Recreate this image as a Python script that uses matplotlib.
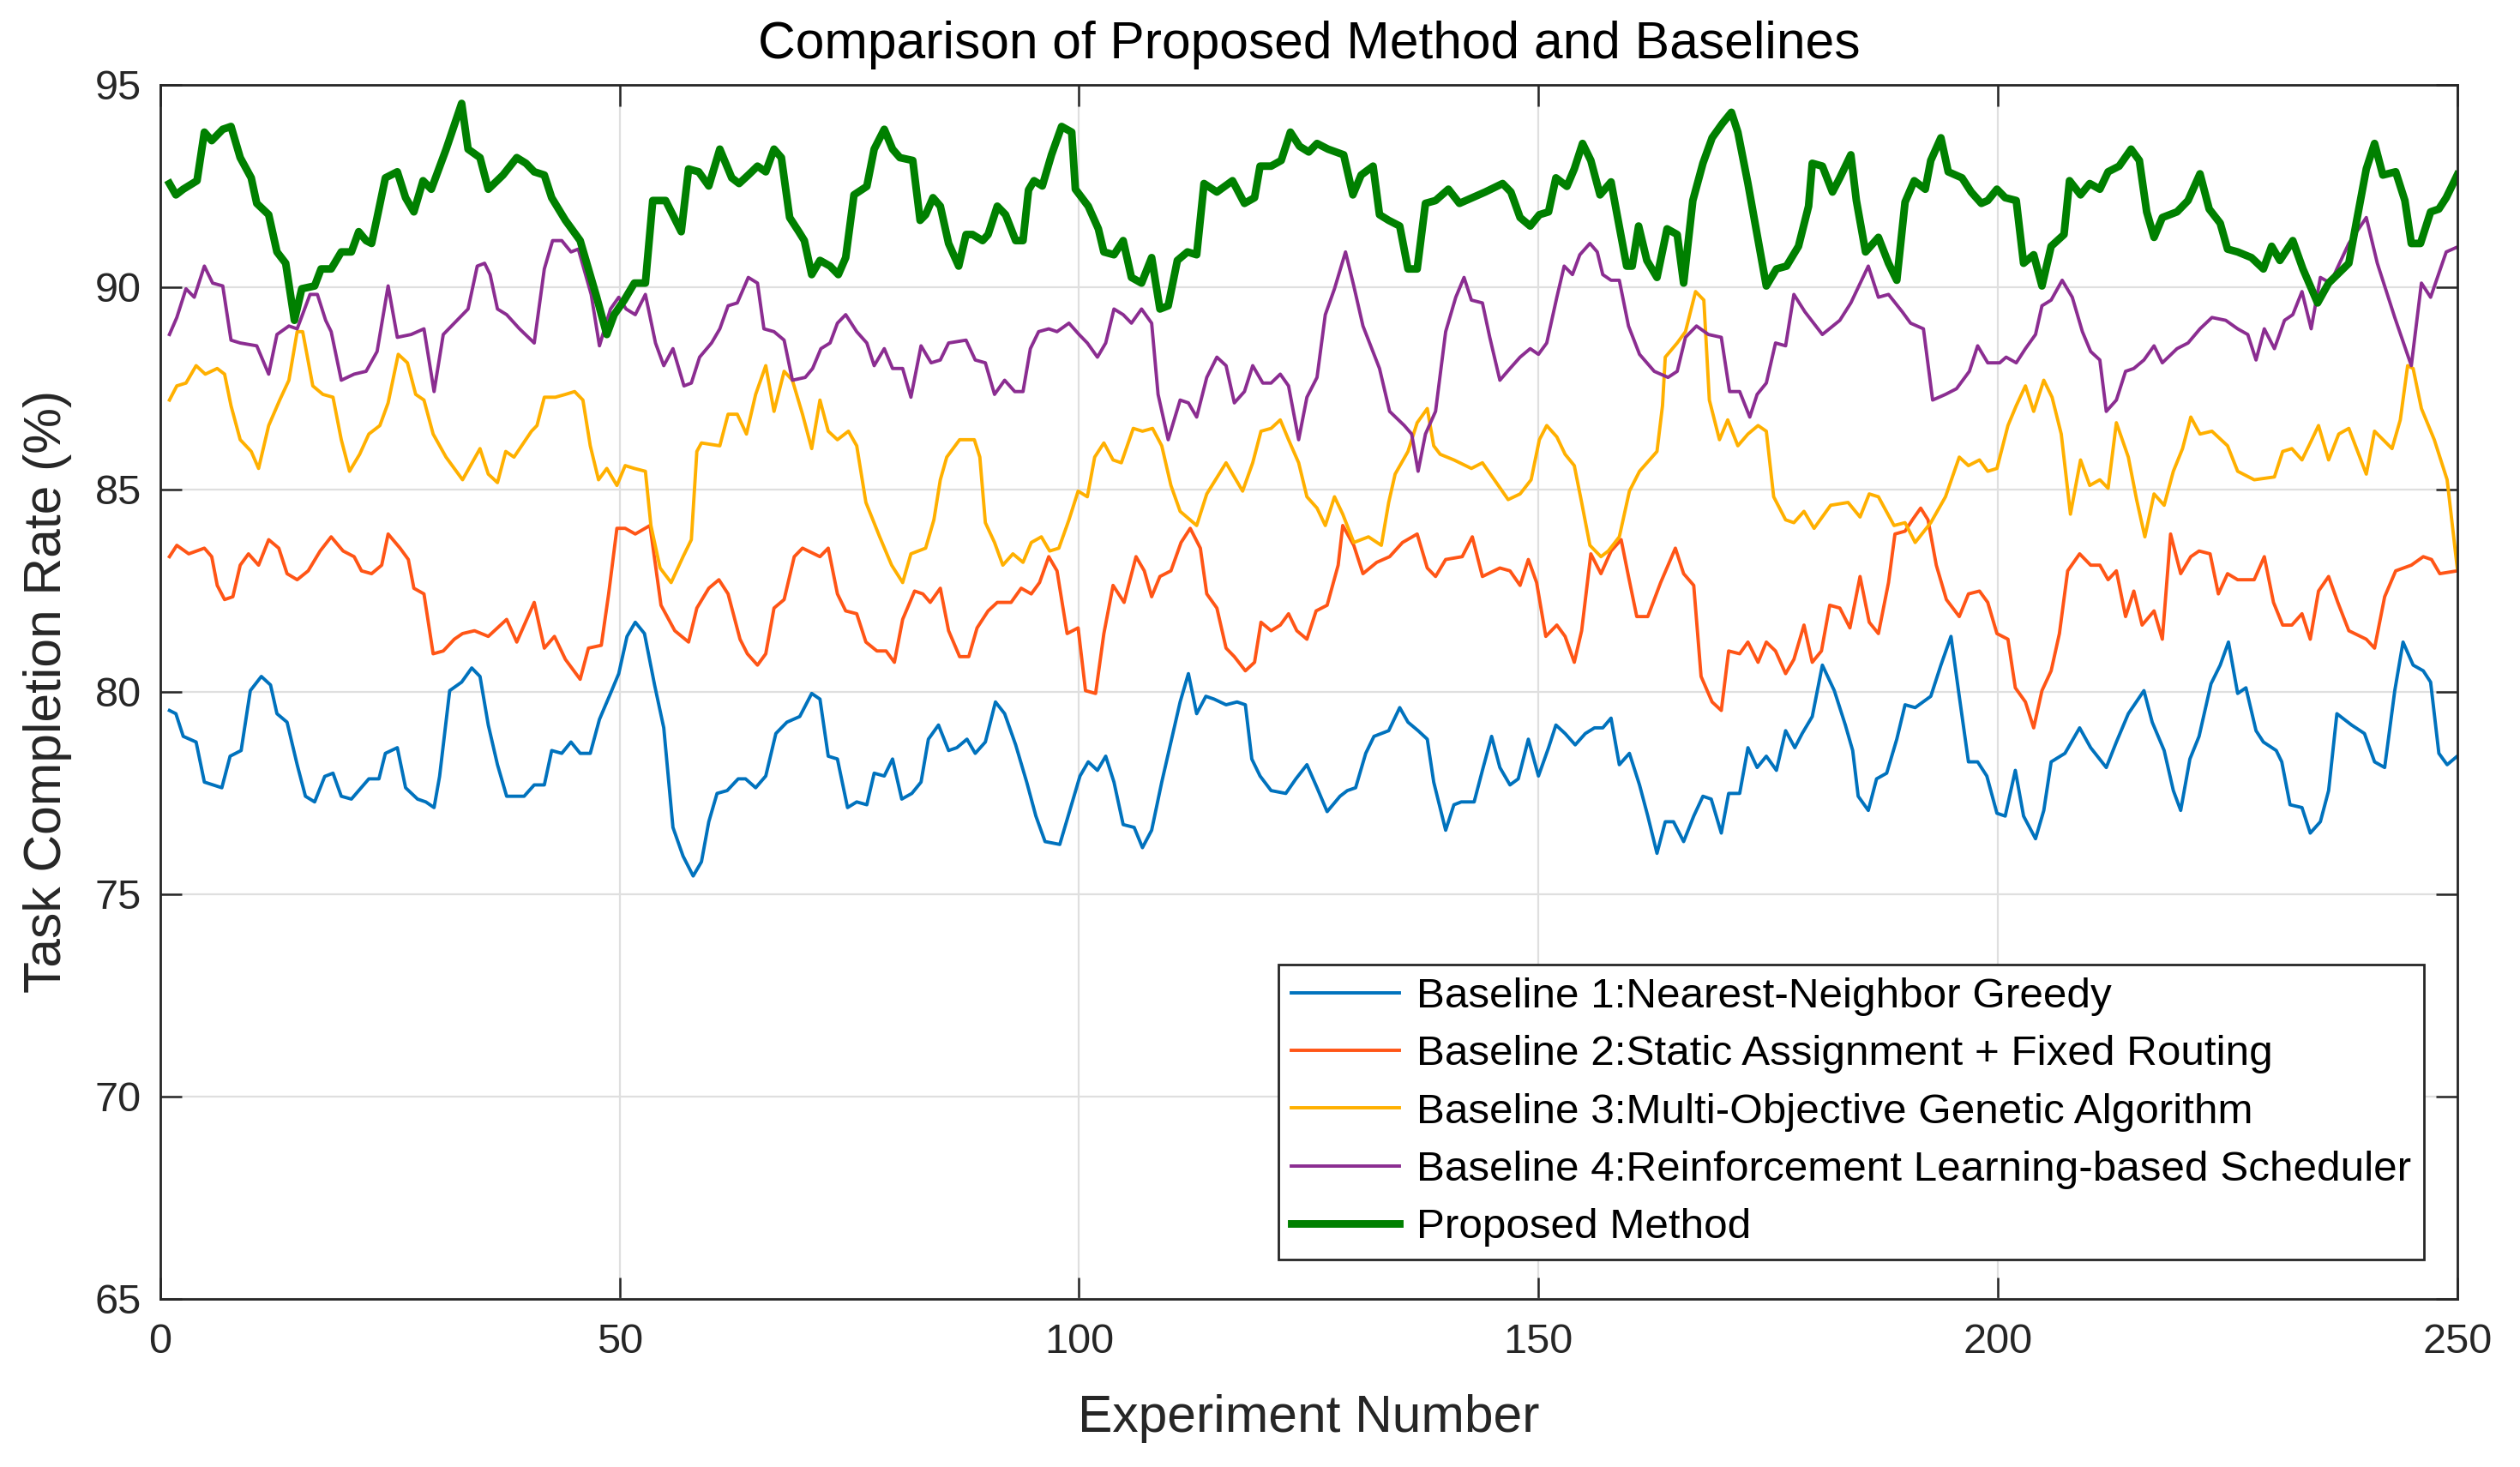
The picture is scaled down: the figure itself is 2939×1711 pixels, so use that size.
import matplotlib.pyplot as plt

plt.rcParams['font.family'] = ['Liberation Sans', 'DejaVu Sans']

# values: experiment number / task completion rate (%)
b1_x = [1, 1.7, 2.5, 3.9, 4.8, 6.7, 7.6, 8.8, 9.8, 11.0, 12.0, 12.7, 13.8, 14.9, 15.8, 16.8, 17.9, 18.8, 19.7, 20.8,
        22.7, 23.8, 24.5, 25.8, 26.7, 28.0, 28.9, 29.8, 30.4, 31.5, 32.8, 33.9, 34.8, 35.7, 36.7, 37.7, 39.6, 40.7,
        41.8, 42.6, 43.7, 44.7, 45.7, 46.8, 47.8, 49.0, 49.9, 50.8, 51.7, 52.7, 53.8, 54.8, 55.8, 56.9, 58.0, 58.9,
        59.7, 60.6, 61.7, 62.9, 63.7, 64.8, 65.9, 67.0, 68.2, 69.6, 70.9, 71.8, 72.7, 73.7, 74.8, 75.8, 76.9, 77.7,
        78.8, 79.7, 80.7, 81.8, 82.8, 83.6, 84.7, 85.8, 86.7, 87.8, 88.7, 89.8, 90.9, 91.9, 93.1, 94.3, 95.3, 96.3,
        97.9, 98.9, 100.1, 101.0, 102.0, 102.9, 103.8, 104.8, 106.0, 106.9, 107.9, 109.0, 110.0, 111.0, 111.9, 112.8,
        113.8, 114.7, 116.0, 117.2, 118.1, 118.8, 119.7, 120.9, 122.5, 123.6, 124.8, 125.9, 127.0, 128.4, 129.2,
        130.1, 131.2, 132.1, 133.7, 134.9, 135.8, 136.9, 137.9, 138.6, 139.9, 140.8, 141.6, 143.0, 143.9, 144.9,
        145.8, 146.9, 147.8, 148.9, 150.0, 151.1, 151.9, 152.9, 154.0, 155.1, 156.1, 157.0, 157.9, 158.8, 159.9,
        161.0, 161.9, 162.9, 163.8, 164.7, 165.8, 166.9, 167.9, 168.8, 169.9, 170.7, 171.9, 172.8, 173.8, 174.8,
        175.9, 176.9, 177.9, 178.7, 179.8, 180.9, 182.2, 183.4, 184.2, 184.8, 185.9, 186.8, 187.9, 189.0, 189.9,
        191.0, 192.7, 193.8, 194.9, 195.8, 196.8, 197.8, 198.8, 199.9, 200.8, 201.9, 202.8, 204.1, 205.0, 205.8,
        207.3, 208.9, 210.1, 211.8, 212.9, 214.2, 215.9, 216.8, 218.1, 219.1, 219.9, 220.9, 221.9, 223.2, 224.2,
        225.1, 226.1, 227.0, 228.1, 228.9, 230.3, 230.9, 231.8, 233.1, 234.0, 235.1, 236.0, 236.9, 238.5, 239.9,
        241.0, 242.1, 243.2, 244.1, 245.2, 246.3, 247.1, 248.0, 248.9, 250.0]
b1_y = [79.54, 79.46, 78.9, 78.76, 77.77, 77.63, 78.41, 78.55, 80.03, 80.38, 80.17, 79.46, 79.25, 78.2, 77.42, 77.28,
        77.91, 77.99, 77.42, 77.35, 77.85, 77.85, 78.48, 78.62, 77.63, 77.35, 77.28, 77.14, 77.91, 80.03, 80.24,
        80.59, 80.38, 79.18, 78.2, 77.42, 77.42, 77.7, 77.7, 78.55, 78.48, 78.76, 78.48, 78.48, 79.32, 79.96, 80.45,
        81.37, 81.72, 81.44, 80.17, 79.11, 76.65, 75.94, 75.45, 75.8, 76.79, 77.49, 77.56, 77.85, 77.85, 77.63, 77.92,
        78.97, 79.25, 79.39, 79.96, 79.82, 78.41, 78.34, 77.14, 77.28, 77.21, 77.99, 77.92, 78.34, 77.35, 77.49,
        77.77, 78.83, 79.18, 78.55, 78.62, 78.83, 78.48, 78.76, 79.75, 79.46, 78.69, 77.77, 76.93, 76.3, 76.23, 77.0,
        77.92, 78.27, 78.06, 78.41, 77.77, 76.72, 76.65, 76.15, 76.58, 77.77, 78.76, 79.75, 80.45, 79.46, 79.89,
        79.82, 79.68, 79.75, 79.68, 78.34, 77.92, 77.56, 77.49, 77.85, 78.2, 77.63, 77.04, 77.42, 77.56, 77.63,
        78.48, 78.9, 79.04, 79.61, 79.25, 79.04, 78.83, 77.77, 76.58, 77.21, 77.28, 77.28, 78.06, 78.9, 78.13, 77.7,
        77.85, 78.83, 77.92, 78.62, 79.18, 78.97, 78.69, 78.97, 79.11, 79.11, 79.35, 78.2, 78.48, 77.7, 76.93, 76.01,
        76.79, 76.79, 76.3, 76.93, 77.42, 77.35, 76.51, 77.49, 77.49, 78.62, 78.13, 78.41, 78.06, 79.04, 78.62, 78.97,
        79.39, 80.66, 80.03, 79.18, 78.55, 77.42, 77.07, 77.85, 77.99, 78.83, 79.68, 79.61, 79.89, 80.66, 81.37,
        79.89, 78.27, 78.27, 77.92, 77.0, 76.93, 78.06, 76.93, 76.37, 77.07, 78.27, 78.48, 79.11, 78.62, 78.13,
        78.76, 79.46, 80.03, 79.25, 78.55, 77.56, 77.07, 78.34, 78.9, 80.2, 80.66, 81.23, 79.96, 80.1, 79.04, 78.76,
        78.55, 78.27, 77.21, 77.14, 76.51, 76.79, 77.56, 79.46, 79.18, 78.97, 78.27, 78.13, 80.03, 81.23, 80.66,
        80.52, 80.24, 78.48, 78.2, 78.41]

b2_x = [1, 1.8, 3.1, 4.8, 5.6, 6.2, 7.0, 7.9, 8.7, 9.6, 10.7, 11.8, 12.9, 13.8, 14.9, 16.1, 17.4, 18.6, 19.9, 21.1,
        21.9, 23.0, 24.1, 24.8, 26.1, 27.0, 27.6, 28.7, 29.7, 30.8, 32.0, 32.9, 34.2, 35.7, 37.7, 38.8, 40.7, 41.8,
        42.9, 44.1, 45.7, 46.6, 48.0, 48.8, 49.7, 50.6, 51.7, 53.3, 54.5, 56.0, 57.5, 58.4, 59.7, 60.8, 61.8, 63.1,
        63.9, 65.0, 65.9, 66.8, 67.9, 69.0, 69.9, 71.8, 72.7, 73.7, 74.6, 75.8, 76.8, 78.0, 79.0, 79.9, 80.8, 82.1,
        83.0, 83.8, 84.9, 85.8, 87.0, 88.0, 88.9, 90.1, 91.1, 92.6, 93.7, 94.8, 95.7, 96.7, 97.6, 98.7, 99.9, 100.7,
        101.8, 102.7, 103.7, 104.9, 106.2, 107.1, 107.9, 108.8, 110.0, 111.1, 112.1, 113.2, 113.9, 115.0, 116.0,
        116.9, 118.1, 119.1, 119.8, 120.9, 121.9, 122.8, 123.7, 124.8, 125.8, 127.0, 128.2, 128.7, 129.9, 130.9,
        132.4, 133.8, 135.2, 136.8, 137.9, 138.8, 139.9, 141.7, 142.8, 143.9, 145.8, 146.9, 148.0, 148.9, 149.8,
        150.8, 152.0, 152.9, 153.9, 154.7, 155.7, 156.8, 157.9, 159.0, 159.8, 160.7, 161.9, 163.3, 164.9, 165.8,
        166.9, 167.7, 168.9, 169.9, 170.7, 171.9, 172.8, 173.9, 174.8, 175.8, 176.9, 177.8, 178.9, 179.8, 180.8,
        181.7, 182.8, 183.9, 185.0, 186.0, 187.0, 188.1, 188.8, 189.9, 190.7, 191.6, 192.4, 193.3, 194.4, 195.8,
        196.8, 198.0, 198.9, 199.9, 201.1, 201.9, 203.0, 203.9, 204.8, 205.8, 206.7, 207.6, 208.9, 210.1, 211.1,
        212.0, 212.9, 213.9, 214.8, 215.7, 217.0, 217.9, 218.8, 219.9, 221.0, 221.9, 223.1, 224.0, 225.0, 226.1,
        227.9, 229.0, 230.0, 231.0, 232.0, 233.1, 234.0, 234.9, 236.0, 237.0, 238.2, 240.1, 241.0, 242.1, 243.3,
        245.0, 246.3, 247.2, 248.1, 250.0]
b2_y = [83.34, 83.62, 83.41, 83.55, 83.34, 82.63, 82.28, 82.35, 83.13, 83.41, 83.13, 83.76, 83.55, 82.92, 82.77,
        82.99, 83.48, 83.83, 83.48, 83.34, 82.99, 82.92, 83.13, 83.9, 83.55, 83.27, 82.56, 82.42, 80.94, 81.01, 81.3,
        81.44, 81.51, 81.37, 81.79, 81.23, 82.21, 81.08, 81.37, 80.8, 80.31, 81.08, 81.15, 82.42, 84.04, 84.04, 83.9,
        84.11, 82.14, 81.51, 81.23, 82.07, 82.56, 82.77, 82.42, 81.3, 80.94, 80.66, 80.94, 82.07, 82.28, 83.34, 83.55,
        83.34, 83.55, 82.42, 82.0, 81.93, 81.23, 81.01, 81.01, 80.73, 81.79, 82.49, 82.42, 82.21, 82.56, 81.51, 80.87,
        80.87, 81.58, 82.0, 82.21, 82.21, 82.56, 82.42, 82.7, 83.34, 82.99, 81.44, 81.58, 80.03, 79.96, 81.44, 82.63,
        82.21, 83.34, 82.99, 82.35, 82.85, 82.99, 83.69, 84.04, 83.55, 82.42, 82.07, 81.08, 80.87, 80.52, 80.73,
        81.72, 81.51, 81.65, 81.93, 81.51, 81.3, 82.0, 82.14, 83.13, 84.11, 83.62, 82.92, 83.2, 83.34, 83.69, 83.9,
        83.06, 82.85, 83.27, 83.34, 83.83, 82.85, 83.06, 82.99, 82.63, 83.27, 82.7, 81.37, 81.65, 81.37, 80.73,
        81.51, 83.41, 82.92, 83.48, 83.76, 82.85, 81.86, 81.86, 82.7, 83.55, 82.92, 82.63, 80.38, 79.75, 79.54,
        81.01, 80.94, 81.23, 80.73, 81.23, 81.01, 80.45, 80.8, 81.65, 80.73, 81.01, 82.14, 82.07, 81.58, 82.85,
        81.72, 81.44, 82.7, 83.9, 83.97, 84.25, 84.54, 84.25, 83.13, 82.28, 81.86, 82.42, 82.49, 82.21, 81.44, 81.3,
        80.1, 79.75, 79.11, 80.03, 80.52, 81.44, 82.99, 83.41, 83.13, 83.13, 82.77, 82.99, 81.86, 82.49, 81.65, 82.0,
        81.3, 83.9, 82.92, 83.34, 83.48, 83.41, 82.42, 82.92, 82.77, 82.77, 83.34, 82.21, 81.65, 81.65, 81.93, 81.3,
        82.49, 82.85, 82.21, 81.51, 81.3, 81.08, 82.35, 82.99, 83.13, 83.34, 83.27, 82.92, 82.99]

b3_x = [1, 1.8, 2.8, 3.9, 4.9, 6.2, 7.0, 7.7, 8.7, 9.9, 10.7, 11.8, 13.0, 14.0, 14.9, 15.5, 16.6, 17.7, 18.8, 19.7,
        20.6, 21.7, 22.7, 23.9, 24.8, 25.9, 26.9, 27.8, 28.7, 29.7, 31.1, 32.9, 34.8, 35.7, 36.7, 37.6, 38.5, 40.4,
        41.0, 41.8, 43.0, 44.1, 45.1, 46.0, 46.8, 47.7, 48.6, 49.7, 50.6, 51.6, 52.8, 53.4, 54.4, 55.6, 56.9, 57.8,
        58.4, 58.9, 60.9, 61.8, 62.8, 63.8, 64.8, 65.9, 66.8, 67.9, 68.8, 69.9, 70.9, 71.8, 72.7, 73.7, 74.9, 75.8,
        76.8, 78.3, 79.6, 80.8, 81.7, 83.3, 84.2, 84.9, 85.6, 87.0, 88.6, 89.2, 89.8, 90.8, 91.7, 92.8, 93.9, 94.8,
        95.9, 96.8, 97.8, 98.9, 99.9, 100.9, 101.7, 102.7, 103.7, 104.6, 105.9, 106.9, 108.0, 109.0, 110.0, 111.0,
        112.8, 113.9, 116.0, 116.9, 117.8, 118.9, 119.8, 120.9, 121.9, 122.8, 123.9, 124.8, 125.9, 126.8, 127.8,
        128.7, 129.9, 131.5, 132.9, 133.7, 134.4, 135.8, 136.8, 137.9, 138.6, 139.3, 140.8, 142.7, 143.9, 145.2,
        146.7, 148.0, 149.2, 150.1, 150.9, 152.0, 152.9, 153.9, 154.7, 155.6, 156.8, 157.6, 158.8, 159.9, 161.0,
        162.9, 163.5, 163.8, 165.1, 166.0, 167.1, 168.0, 168.6, 169.7, 170.6, 171.7, 172.8, 173.9, 174.8, 175.6,
        176.9, 177.8, 178.9, 180.0, 181.8, 183.7, 185.0, 186.0, 187.0, 188.7, 189.9, 191.0, 192.7, 194.3, 195.8,
        196.8, 198.0, 198.9, 199.9, 201.1, 202.0, 203.0, 203.9, 205.0, 205.9, 206.9, 207.9, 209.0, 210.0, 211.1,
        212.0, 212.9, 214.2, 215.1, 216.0, 217.0, 218.1, 219.1, 220.1, 221.0, 222.0, 223.3, 225.0, 226.1, 227.9,
        230.1, 231.0, 232.0, 233.1, 234.0, 234.9, 236.0, 237.1, 238.2, 240.1, 241.0, 242.9, 243.8, 244.6, 245.2,
        246.1, 247.5, 248.9, 250.0]
b3_y = [87.21, 87.56, 87.63, 88.06, 87.85, 87.99, 87.85, 87.07, 86.23, 85.94, 85.52, 86.58, 87.21, 87.7, 88.9, 88.9,
        87.56, 87.35, 87.28, 86.23, 85.45, 85.87, 86.37, 86.58, 87.14, 88.34, 88.13, 87.35, 87.21, 86.37, 85.8, 85.24,
        86.01, 85.38, 85.17, 85.94, 85.8, 86.44, 86.58, 87.28, 87.28, 87.35, 87.42, 87.21, 86.08, 85.24, 85.52, 85.1,
        85.59, 85.52, 85.45, 84.11, 83.06, 82.7, 83.34, 83.76, 85.94, 86.15, 86.08, 86.86, 86.86, 86.37, 87.35, 88.06,
        86.93, 87.92, 87.7, 86.86, 86.01, 87.21, 86.44, 86.23, 86.44, 86.08, 84.68, 83.83, 83.13, 82.7, 83.41, 83.55,
        84.25, 85.24, 85.8, 86.23, 86.23, 85.8, 84.18, 83.69, 83.13, 83.41, 83.2, 83.69, 83.83, 83.48, 83.55, 84.25,
        84.96, 84.82, 85.8, 86.15, 85.73, 85.66, 86.51, 86.44, 86.51, 86.08, 85.1, 84.46, 84.11, 84.89, 85.66, 85.31,
        84.96, 85.66, 86.44, 86.51, 86.72, 86.23, 85.66, 84.82, 84.54, 84.11, 84.82, 84.39, 83.69, 83.83, 83.62,
        84.68, 85.38, 85.94, 86.65, 87.0, 86.08, 85.87, 85.73, 85.52, 85.66, 85.24, 84.75, 84.89, 85.24, 86.23, 86.58,
        86.3, 85.87, 85.59, 84.68, 83.62, 83.34, 83.48, 83.83, 84.96, 85.45, 85.94, 87.07, 88.27, 88.62, 88.9, 89.89,
        89.68, 87.21, 86.23, 86.72, 86.08, 86.37, 86.58, 86.44, 84.82, 84.25, 84.18, 84.46, 84.04, 84.61, 84.68,
        84.32, 84.89, 84.82, 84.11, 84.18, 83.69, 84.18, 84.82, 85.8, 85.59, 85.73, 85.45, 85.52, 86.58, 87.07,
        87.56, 86.93, 87.7, 87.28, 86.37, 84.39, 85.73, 85.1, 85.24, 85.03, 86.65, 85.8, 84.75, 83.83, 84.89, 84.61,
        85.45, 86.01, 86.79, 86.37, 86.44, 86.08, 85.45, 85.24, 85.31, 85.94, 86.01, 85.73, 86.15, 86.58, 85.73,
        86.37, 86.51, 85.38, 86.44, 86.01, 86.72, 88.06, 87.99, 87.0, 86.23, 85.24, 83.06]

b4_x = [1, 1.8, 2.8, 3.7, 4.8, 5.7, 6.8, 7.7, 8.7, 10.5, 11.8, 12.7, 14.0, 14.9, 16.3, 17.1, 18.0, 18.6, 19.7, 21.1,
        22.4, 23.6, 24.8, 25.8, 27.3, 28.7, 29.8, 30.8, 32.0, 33.5, 34.5, 35.3, 35.9, 36.7, 37.7, 39.1, 40.7, 41.8,
        42.7, 43.7, 44.7, 45.5, 46.9, 47.8, 49.0, 49.9, 50.7, 51.7, 52.8, 53.9, 54.8, 55.8, 57.0, 57.8, 58.7, 60.0,
        60.9, 61.8, 62.8, 64.0, 65.0, 65.7, 66.8, 67.9, 68.8, 70.2, 71.0, 71.9, 72.9, 73.7, 74.6, 75.8, 76.9, 77.7,
        78.8, 79.7, 80.8, 81.7, 82.8, 83.9, 84.9, 85.8, 87.7, 88.7, 89.8, 90.8, 91.9, 93.0, 93.9, 94.7, 95.6, 96.7,
        97.6, 98.9, 100.0, 100.9, 102.0, 102.9, 103.8, 104.8, 105.7, 106.8, 107.9, 108.6, 109.7, 111.0, 111.9, 112.8,
        113.9, 115.0, 116.0, 116.9, 118.0, 118.9, 120.0, 120.9, 121.9, 122.8, 123.9, 124.8, 125.9, 126.8, 127.8,
        129.0, 129.9, 130.9, 132.7, 133.8, 135.4, 136.2, 136.9, 137.7, 138.8, 139.9, 141.0, 141.9, 142.7, 143.9,
        144.7, 145.8, 146.9, 148.0, 149.1, 150.0, 150.9, 152.0, 152.8, 153.7, 154.5, 155.6, 156.4, 157.0, 157.9,
        158.8, 159.8, 161.0, 162.6, 164.1, 165.1, 166.0, 167.2, 168.5, 169.9, 170.8, 171.9, 173.0, 173.8, 174.8,
        175.8, 176.9, 177.8, 179.0, 180.9, 182.8, 184.0, 185.9, 187.0, 188.1, 189.6, 190.5, 191.9, 192.9, 194.3,
        195.5, 196.9, 197.8, 198.9, 200.2, 200.9, 202.0, 203.0, 204.1, 204.8, 205.8, 207.0, 208.1, 209.2, 210.1,
        211.1, 211.8, 212.9, 213.9, 214.8, 215.9, 217.0, 217.9, 219.5, 220.7, 222.0, 223.3, 224.8, 226.1, 227.2,
        228.1, 229.0, 230.1, 231.2, 232.1, 233.1, 234.1, 235.1, 236.2, 236.9, 238.2, 240.1, 241.3, 243.2, 245.0,
        246.1, 247.1, 248.8, 250.0]
b4_y = [88.83, 89.25, 89.96, 89.75, 90.52, 90.1, 90.03, 88.69, 88.62, 88.55, 87.85, 88.83, 89.04, 88.97, 89.82, 89.82,
        89.18, 88.9, 87.7, 87.85, 87.92, 88.41, 90.03, 88.76, 88.83, 88.97, 87.42, 88.83, 89.11, 89.46, 90.52, 90.59,
        90.31, 89.46, 89.32, 88.97, 88.62, 90.45, 91.15, 91.15, 90.87, 90.94, 89.82, 88.55, 89.46, 89.75, 89.46,
        89.32, 89.82, 88.62, 88.06, 88.48, 87.56, 87.63, 88.27, 88.62, 88.97, 89.54, 89.61, 90.24, 90.1, 88.97, 88.9,
        88.69, 87.7, 87.77, 87.99, 88.48, 88.62, 89.11, 89.32, 88.9, 88.62, 88.06, 88.48, 87.99, 87.99, 87.28, 88.55,
        88.13, 88.2, 88.62, 88.69, 88.2, 88.13, 87.35, 87.7, 87.42, 87.42, 88.48, 88.9, 88.97, 88.9, 89.11, 88.83,
        88.62, 88.27, 88.62, 89.46, 89.32, 89.11, 89.46, 89.11, 87.35, 86.23, 87.21, 87.14, 86.79, 87.77, 88.27, 88.06,
        87.14, 87.42, 88.06, 87.63, 87.63, 87.85, 87.56, 86.23, 87.28, 87.77, 89.32, 89.96, 90.87, 90.03, 89.04,
        87.99, 86.93, 86.58, 86.37, 85.45, 86.37, 86.93, 88.9, 89.75, 90.24, 89.68, 89.61, 88.76, 87.7, 87.99, 88.27,
        88.48, 88.34, 88.62, 89.75, 90.52, 90.31, 90.8, 91.08, 90.87, 90.31, 90.17, 90.17, 89.04, 88.34, 87.92,
        87.77, 87.92, 88.76, 89.04, 88.83, 88.76, 87.42, 87.42, 86.79, 87.35, 87.63, 88.62, 88.55, 89.82, 89.39,
        88.83, 89.18, 89.61, 90.52, 89.75, 89.82, 89.39, 89.11, 88.97, 87.21, 87.35, 87.49, 87.92, 88.55, 88.13,
        88.13, 88.27, 88.13, 88.48, 88.83, 89.54, 89.68, 90.17, 89.75, 88.9, 88.41, 88.2, 86.93, 87.21, 87.92, 87.99,
        88.2, 88.55, 88.13, 88.48, 88.62, 88.97, 89.25, 89.18, 88.97, 88.83, 88.2, 88.97, 88.48, 89.18, 89.32, 89.89,
        88.97, 90.24, 90.1, 90.45, 91.08, 91.72, 90.59, 89.25, 88.06, 90.1, 89.75, 90.87, 90.99]

prop_x = [1, 1.7, 2.5, 4.0, 4.8, 5.6, 6.8, 7.7, 8.7, 9.9, 10.5, 11.8, 12.7, 13.65, 14.6, 15.4, 16.8, 17.5, 18.6, 19.7,
          20.8, 21.6, 22.4, 23.0, 23.6, 24.5, 25.8, 26.7, 27.6, 28.6, 29.5, 31.1, 32.8, 33.5, 34.8, 35.7, 37.3, 38.8,
          39.8, 40.7, 41.8, 42.6, 44.1, 45.7, 46.6, 47.5, 48.6, 49.4, 50.5, 51.6, 52.8, 53.6, 55.0, 56.7, 57.5, 58.6,
          59.7, 60.9, 62.2, 63.0, 64.0, 65.0, 65.9, 66.8, 67.6, 68.5, 69.5, 70.1, 70.9, 71.8, 72.9, 73.8, 74.6, 75.5,
          76.9, 77.7, 78.8, 79.7, 80.5, 81.9, 82.7, 83.3, 84.1, 84.9, 85.8, 86.9, 87.7, 88.4, 89.5, 90.1, 91.1, 92.0,
          93.1, 93.9, 94.5, 95.1, 96.0, 97.0, 98.1, 99.2, 99.6, 101.0, 102.1, 102.7, 103.8, 104.8, 105.7, 106.8,
          107.9, 108.8, 109.7, 110.7, 111.8, 112.8, 113.6, 115.0, 116.7, 118.0, 119.1, 119.7, 120.9, 122.0, 123.0,
          124.0, 125.0, 125.9, 127.1, 128.8, 129.8, 130.7, 132.0, 132.7, 133.7, 134.9, 135.8, 136.8, 137.7, 138.8,
          140.2, 141.4, 142.8, 144.2, 146.1, 147.0, 148.0, 149.1, 150.1, 151.1, 151.9, 153.1, 153.9, 154.8, 155.7,
          156.7, 157.9, 158.5, 159.6, 160.2, 160.9, 161.8, 162.9, 164.0, 165.1, 165.8, 166.8, 167.9, 168.9, 170.0,
          171.0, 171.7, 172.8, 173.8, 174.8, 175.9, 177.0, 178.3, 179.4, 179.8, 180.9, 182.0, 182.8, 184.0, 184.6,
          185.6, 187.0, 188.1, 189.0, 189.9, 190.9, 192.1, 192.7, 193.8, 194.6, 196.1, 197.1, 198.2, 198.9, 199.9,
          200.8, 202.0, 202.8, 203.9, 204.8, 205.8, 207.2, 207.8, 209.0, 210.0, 211.1, 212.0, 213.2, 214.5, 215.4,
          216.2, 217.0, 217.9, 219.5, 220.7, 222.0, 223.0, 224.2, 225.0, 226.1, 227.6, 228.9, 229.8, 230.7, 232.1,
          233.2, 234.8, 236.0, 238.2, 239.0, 240.1, 241.0, 241.9, 243.3, 244.3, 245.0, 246.0, 247.1, 248.0, 248.8,
          250.0]
prop_y = [92.56, 92.28, 92.42, 92.63, 93.83, 93.62, 93.9, 93.97, 93.2, 92.7, 92.07, 91.79, 90.87, 90.59, 89.18, 89.96,
          90.03, 90.45, 90.45, 90.87, 90.87, 91.37, 91.15, 91.08, 91.72, 92.7, 92.85, 92.21, 91.86, 92.63, 92.42, 93.4,
          94.54, 93.41, 93.2, 92.42, 92.77, 93.2, 93.06, 92.85, 92.77, 92.21, 91.65, 91.15, 90.45, 89.75, 88.83, 89.32,
          89.68, 90.1, 90.1, 92.14, 92.14, 91.37, 92.92, 92.85, 92.5, 93.41, 92.7, 92.56, 92.77, 92.99, 92.85, 93.41,
          93.2, 91.72, 91.37, 91.15, 90.31, 90.66, 90.52, 90.31, 90.73, 92.28, 92.49, 93.41, 93.9, 93.41, 93.2, 93.13,
          91.65, 91.79, 92.21, 92.0, 91.08, 90.52, 91.3, 91.3, 91.15, 91.3, 92.0, 91.79, 91.15, 91.15, 92.4, 92.63,
          92.5, 93.27, 93.97, 93.83, 92.42, 92.0, 91.44, 90.87, 90.8, 91.15, 90.24, 90.1, 90.73, 89.46, 89.54, 90.66,
          90.87, 90.8, 92.56, 92.35, 92.63, 92.07, 92.21, 92.99, 92.99, 93.13, 93.83, 93.48, 93.34, 93.55, 93.41,
          93.27, 92.28, 92.77, 92.99, 91.79, 91.65, 91.51, 90.45, 90.45, 92.07, 92.14, 92.42, 92.07, 92.21, 92.35,
          92.56, 92.35, 91.72, 91.51, 91.79, 91.86, 92.7, 92.49, 92.92, 93.55, 93.13, 92.28, 92.6, 91.86, 90.52, 90.52,
          91.51, 90.66, 90.24, 91.44, 91.3, 90.1, 92.14, 93.06, 93.69, 94.04, 94.32, 93.83, 92.56, 91.3, 90.03, 90.45,
          90.52, 91.01, 92.0, 93.06, 92.99, 92.35, 92.7, 93.27, 92.14, 90.87, 91.23, 90.59, 90.17, 92.1, 92.63, 92.42,
          93.13, 93.69, 92.85, 92.7, 92.35, 92.07, 92.14, 92.42, 92.21, 92.14, 90.59, 90.8, 90.03, 91.01, 91.3, 92.63,
          92.28, 92.56, 92.42, 92.85, 92.99, 93.41, 93.13, 91.86, 91.23, 91.72, 91.86, 92.14, 92.8, 91.93, 91.58,
          90.94, 90.87, 90.73, 90.45, 91.01, 90.66, 91.15, 90.45, 89.61, 90.1, 90.59, 91.58, 92.92, 93.55, 92.77,
          92.85, 92.14, 91.08, 91.08, 91.86, 91.93, 92.21, 92.77]

labels = ['Baseline 1:Nearest-Neighbor Greedy',
          'Baseline 2:Static Assignment + Fixed Routing',
          'Baseline 3:Multi-Objective Genetic Algorithm',
          'Baseline 4:Reinforcement Learning-based Scheduler',
          'Proposed Method']
colors = ['#0072BD', '#FF5516', '#FFB000', '#8B2D91', '#008000']
widths = [1.4, 1.4, 1.4, 1.4, 3.2]
series = [(b1_x, b1_y), (b2_x, b2_y), (b3_x, b3_y), (b4_x, b4_y), (prop_x, prop_y)]

ink = '#262626'

fig = plt.figure(figsize=(14.695, 8.555), dpi=200)
ax = fig.add_axes([0.0636, 0.1146, 0.9115, 0.8276])

for (xs, ys), lab, c, lw in zip(series, labels, colors, widths):
    ax.plot(xs, ys, color=c, linewidth=lw, label=lab)

ax.set_xlim(0, 250)
ax.set_ylim(65, 95)
ax.set_xticks(range(0, 251, 50))
ax.set_yticks(range(65, 96, 5))
ax.grid(True, color='#dfdfdf', linewidth=0.8)
ax.set_axisbelow(True)

ax.tick_params(direction='in', length=9, width=0.9, top=True, right=True,
               labelsize=17.5, colors=ink)
ax.tick_params(axis='x', pad=10)
ax.tick_params(axis='y', pad=8)
for s in ax.spines.values():
    s.set_linewidth(1.0)
    s.set_color(ink)

ax.set_xlabel('Experiment Number', fontsize=21.8, color=ink)
ax.xaxis.set_label_coords(0.5, -0.0989)
ax.xaxis.label.set_va('center')
ax.set_ylabel('Task Completion Rate (%)', fontsize=21.8, color=ink)
ax.yaxis.set_label_coords(-0.0489, 0.5)
ax.yaxis.label.set_va('center')
ax.set_title('Comparison of Proposed Method and Baselines', fontsize=21.8,
             y=1.0325, pad=0, va='center')

leg = ax.legend(loc='lower right', bbox_to_anchor=(0.9855, 0.0325), borderaxespad=0,
                fontsize=17.8, fancybox=False, framealpha=1, edgecolor=ink,
                handlelength=2.55, handletextpad=0.4, borderpad=0.3, labelspacing=0.45)
leg.get_frame().set_linewidth(1.0)

fig.savefig('out.png', dpi=200)
